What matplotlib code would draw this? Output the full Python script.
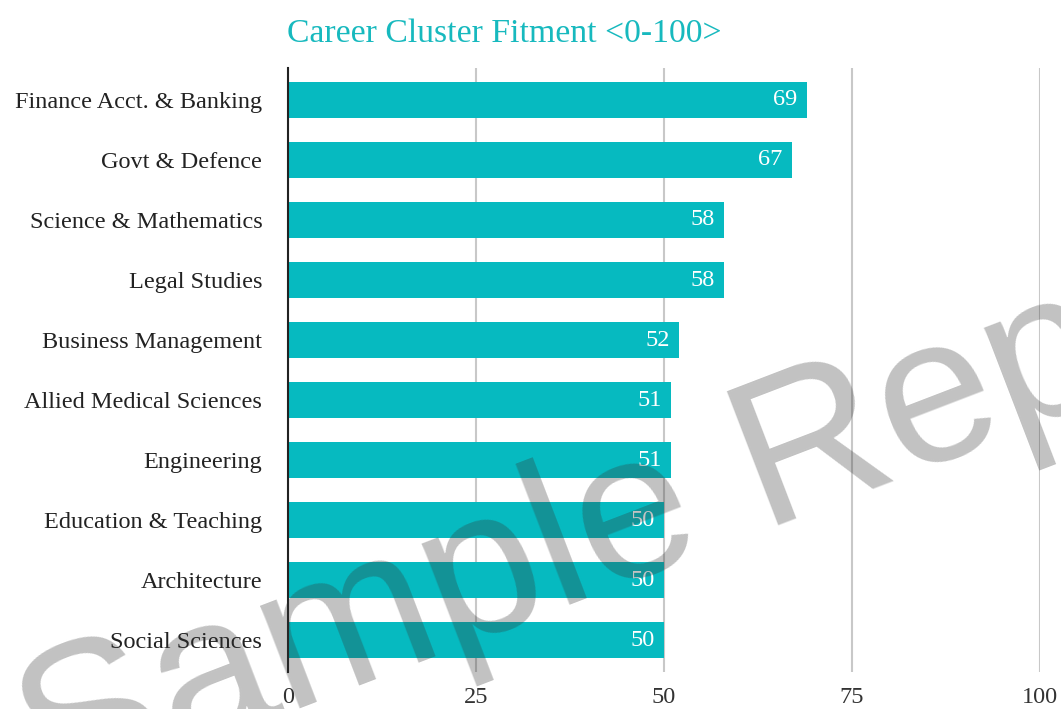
import matplotlib
matplotlib.use("Agg")
import matplotlib.pyplot as plt

categories = ["Finance Acct. & Banking", "Govt & Defence", "Science & Mathematics",
              "Legal Studies", "Business Management", "Allied Medical Sciences",
              "Engineering", "Education & Teaching", "Architecture", "Social Sciences"]
values = [69, 67, 58, 58, 52, 51, 51, 50, 50, 50]
xticks = [0, 25, 50, 75, 100]
title = "Career Cluster Fitment <0-100>"
watermark = "Sample Report"

plt.rcParams['font.family'] = ['Liberation Serif', 'DejaVu Serif']
teal = "#06BAC0"

fig = plt.figure(figsize=(10.61, 7.09), dpi=100)
ax = fig.add_axes([0.2714, 0.052, 0.7086, 0.852])

ypos = list(range(len(categories)))
ax.barh(ypos, values, height=0.6, color=teal, zorder=2)
for y, v in zip(ypos, values):
    ax.text(v - 1.2, y, str(v), ha='right', va='center', color='white', fontsize=17.5, zorder=3)

ax.set_ylim(9.53, -0.53)
ax.set_xlim(0, 100)
ax.set_xticks(xticks)
ax.set_xticklabels([str(t) for t in xticks], fontsize=17.5, color='#333333')
ax.set_yticks(ypos)
ax.set_yticklabels(categories, fontsize=17.5, color='#222222')
ax.tick_params(axis='both', length=0)
ax.tick_params(axis='y', pad=18.5)
ax.tick_params(axis='x', pad=11)
for s in ['top', 'right', 'bottom']:
    ax.spines[s].set_visible(False)
ax.spines['left'].set_linewidth(1.5)
ax.spines['left'].set_color('#222222')
ax.spines['left'].set_zorder(4)
ax.grid(axis='x', color='#C8C8C8', linewidth=1.5, zorder=1)
ax.set_axisbelow(True)

fig.text(0.475, 0.952, title, ha='center', va='center', color='#17B9BE', fontsize=24.3)

fig.text(0.0462, -0.1354, watermark, ha='left', va='baseline', rotation=21,
         rotation_mode='anchor', fontsize=150, color='#343434', alpha=0.3,
         family=['Liberation Sans'], zorder=10)

fig.savefig("out.png", dpi=100)
